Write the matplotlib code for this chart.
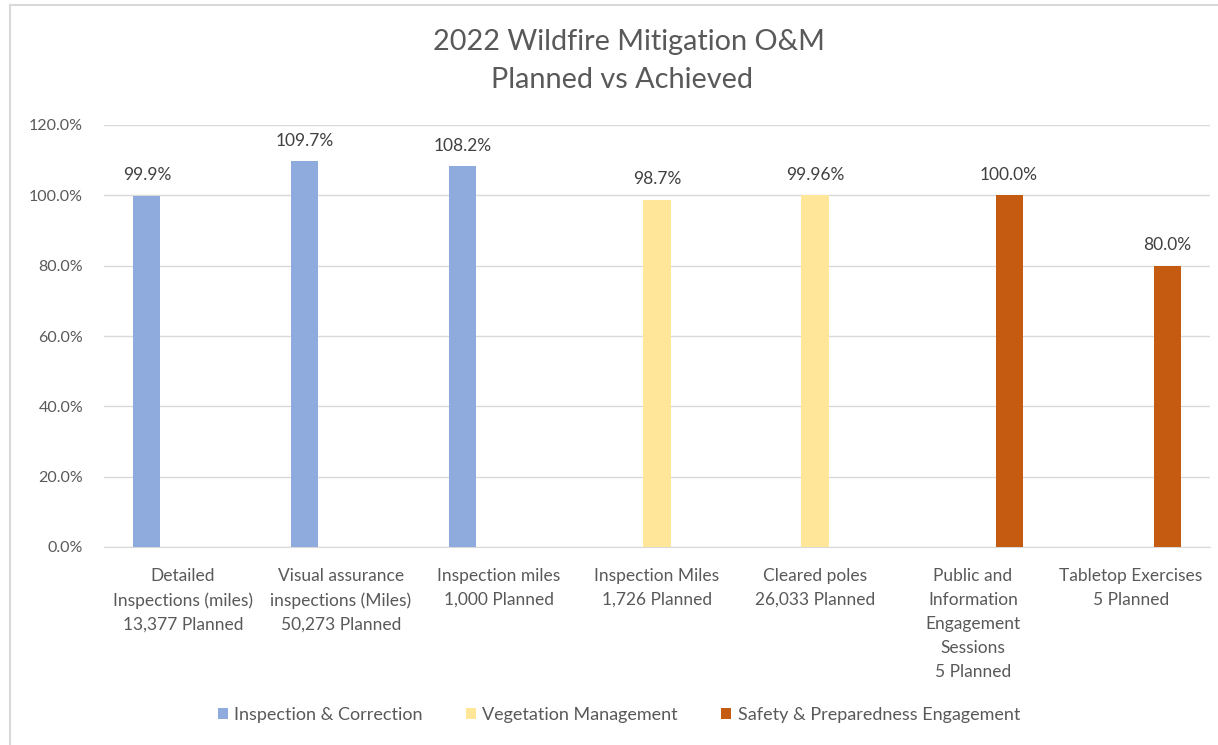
import numpy as np
import matplotlib.pyplot as plt
from matplotlib.lines import Line2D
from matplotlib.patches import Patch

categories = [
    "Detailed\nInspections (miles)\n13,377 Planned",
    "Visual assurance\ninspections (Miles)\n50,273 Planned",
    "Inspection miles\n1,000 Planned",
    "Inspection Miles\n1,726 Planned",
    "Cleared poles\n26,033 Planned",
    "Public and\nInformation\nEngagement\nSessions\n5 Planned",
    "Tabletop Exercises\n5 Planned",
]
series_names = ["Inspection & Correction", "Vegetation Management",
                "Safety & Preparedness Engagement"]
inspection = [99.9, 109.7, 108.2, 0, 0, 0, 0]
vegetation = [0, 0, 0, 98.7, 99.96, 0, 0]
safety = [0, 0, 0, 0, 0, 100.0, 80.0]
value_labels = ["99.9%", "109.7%", "108.2%", "98.7%", "99.96%", "100.0%", "80.0%"]

colors = ["#8FAADC", "#FFE699", "#C55A11"]
text_color = "#595959"

plt.rcParams["font.family"] = ["Lato", "DejaVu Sans"]

fig = plt.figure(figsize=(12.18, 7.45), dpi=100)
ax = fig.add_axes([104 / 1218, 1 - 547 / 745, (1210 - 104) / 1218, (547 - 125) / 745])

x = np.arange(len(categories))
offset = 0.228
width = 0.171
all_series = [inspection, vegetation, safety]
for k, vals in enumerate(all_series):
    pos = x + (k - 1) * offset
    ax.bar(pos, vals, width=width, color=colors[k], zorder=3)

# one label per category, placed above the non-zero bar
for i in range(len(categories)):
    for k, vals in enumerate(all_series):
        if vals[i] > 0:
            ax.annotate(value_labels[i], (x[i] + (k - 1) * offset, vals[i]),
                        xytext=(0, 9), textcoords="offset points",
                        ha="center", va="bottom", fontsize=12.5, color="#404040")

ax.set_xlim(-0.5, len(categories) - 0.5)
ax.set_ylim(0, 120)
ax.set_yticks(np.arange(0, 121, 20))
ax.set_yticklabels([f"{v:.1f}%" for v in np.arange(0, 121, 20)],
                   fontsize=11.5, color=text_color)
ax.set_xticks(x)
ax.set_xticklabels(categories, fontsize=12.5, color=text_color, linespacing=1.62)
ax.tick_params(axis="both", length=0)
ax.tick_params(axis="x", pad=15)
ax.tick_params(axis="y", pad=15)
ax.grid(axis="y", color="#D9D9D9", linewidth=1, zorder=0)
for s in ["top", "right", "left"]:
    ax.spines[s].set_visible(False)
ax.spines["bottom"].set_color("#D9D9D9")

fig.text(629 / 1218, 1 - 42 / 745, "2022 Wildfire Mitigation O&M",
         ha="center", va="center", fontsize=20.8, color=text_color)
fig.text(622 / 1218, 1 - 80 / 745, "Planned vs Achieved",
         ha="center", va="center", fontsize=20.8, color=text_color)

handles = [Patch(facecolor=c) for c in colors]
fig.legend(handles, series_names, loc="center", bbox_to_anchor=(619 / 1218, 1 - 715 / 745),
           ncol=3, frameon=False, fontsize=13, labelcolor=text_color,
           handlelength=0.55, handleheight=0.55, handletextpad=0.35, columnspacing=2.4)

# chart area border (left and top edges visible)
fig.add_artist(Line2D([10 / 1218, 10 / 1218], [0, 1 - 5 / 745], transform=fig.transFigure,
                      color="#D9D9D9", linewidth=1.5))
fig.add_artist(Line2D([10 / 1218, 1], [1 - 5 / 745, 1 - 5 / 745], transform=fig.transFigure,
                      color="#D9D9D9", linewidth=1.5))

fig.savefig("out.png", dpi=100)
